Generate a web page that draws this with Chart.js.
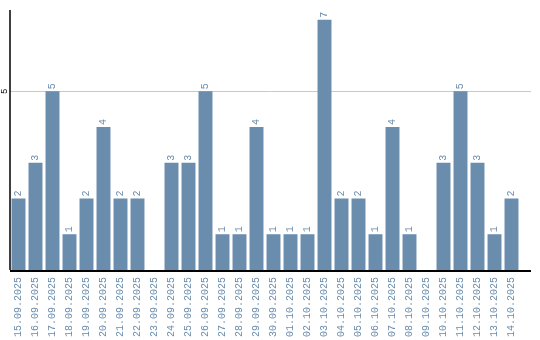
<!DOCTYPE html>
<html>
<head>
<meta charset="utf-8">
<script src="https://cdn.jsdelivr.net/npm/chart.js@4.4.1/dist/chart.umd.min.js"></script>
<style>
html,body{margin:0;padding:0;background:#fff;}
#wrap{width:540px;height:340px;position:relative;}
</style>
</head>
<body>
<div id="wrap"><canvas id="c" width="540" height="340"></canvas></div>
<script>
const categories = ["15.09.2025","16.09.2025","17.09.2025","18.09.2025","19.09.2025","20.09.2025","21.09.2025","22.09.2025","23.09.2025","24.09.2025","25.09.2025","26.09.2025","27.09.2025","28.09.2025","29.09.2025","30.09.2025","01.10.2025","02.10.2025","03.10.2025","04.10.2025","05.10.2025","06.10.2025","07.10.2025","08.10.2025","09.10.2025","10.10.2025","11.10.2025","12.10.2025","13.10.2025","14.10.2025"];
const values = [2,3,5,1,2,4,2,2,0,3,3,5,1,1,4,1,1,1,7,2,2,1,4,1,0,3,5,3,1,2];
const yTicks = [5];

const BAR = '#6a8cad';
const MONO = '"Liberation Mono", "DejaVu Sans Mono", monospace';

const decor = {
  id: 'decor',
  beforeDatasetsDraw(chart) {
    const ctx = chart.ctx;
    const ca = chart.chartArea;
    const y = chart.scales.y;
    ctx.save();
    ctx.strokeStyle = '#c8c8c8';
    ctx.lineWidth = 1;
    yTicks.forEach(t => {
      const py = Math.round(y.getPixelForValue(t)) + 0.5;
      ctx.beginPath();
      ctx.moveTo(ca.left, py);
      ctx.lineTo(531, py);
      ctx.stroke();
    });
    ctx.restore();
  },
  afterDatasetsDraw(chart) {
    const ctx = chart.ctx;
    const ca = chart.chartArea;
    const y = chart.scales.y;
    const meta = chart.getDatasetMeta(0);
    ctx.save();
    ctx.fillStyle = BAR;
    ctx.font = '10px ' + MONO;
    ctx.textAlign = 'left';
    ctx.textBaseline = 'middle';
    meta.data.forEach((bar, i) => {
      const v = values[i];
      if (!v) return;
      ctx.save();
      ctx.translate(bar.x, bar.y - 2);
      ctx.rotate(-Math.PI / 2);
      ctx.fillText(String(v), 0, 0);
      ctx.restore();
    });
    ctx.restore();
    ctx.save();
    ctx.strokeStyle = '#000';
    ctx.lineWidth = 1.5;
    ctx.beginPath();
    ctx.moveTo(ca.left, ca.top);
    ctx.lineTo(ca.left, ca.bottom);
    ctx.stroke();
    ctx.lineWidth = 2;
    ctx.beginPath();
    ctx.moveTo(ca.left, ca.bottom + 1);
    ctx.lineTo(531, ca.bottom + 1);
    ctx.stroke();
    ctx.fillStyle = '#000';
    ctx.font = '9px ' + MONO;
    ctx.textAlign = 'center';
    ctx.textBaseline = 'middle';
    yTicks.forEach(t => {
      const py = y.getPixelForValue(t);
      ctx.save();
      ctx.translate(5, py);
      ctx.rotate(-Math.PI / 2);
      ctx.fillText(String(t), 0, 0);
      ctx.restore();
    });
    ctx.restore();
  }
};

new Chart(document.getElementById('c'), {
  type: 'bar',
  data: {
    labels: categories,
    datasets: [{
      data: values,
      backgroundColor: BAR,
      borderWidth: 0,
      barPercentage: 0.82,
      categoryPercentage: 1.0
    }]
  },
  options: {
    responsive: false,
    animation: false,
    devicePixelRatio: 1,
    layout: { padding: { left: 10, top: 10, right: 20, bottom: 0 } },
    plugins: { legend: { display: false }, tooltip: { enabled: false } },
    scales: {
      x: {
        offset: true,
        afterFit(scale) { scale.height = 70; },
        grid: { display: false, drawTicks: false },
        border: { display: false },
        ticks: {
          color: '#6a8cad',
          font: { family: MONO, size: 10 },
          minRotation: 90,
          maxRotation: 90,
          autoSkip: false,
          padding: 7
        }
      },
      y: {
        min: 0,
        max: 7.27,
        afterFit(scale) { scale.width = 0; },
        ticks: { display: false, stepSize: 5 },
        border: { display: false },
        grid: { display: false }
      }
    }
  },
  plugins: [decor]
});
</script>
</body>
</html>
